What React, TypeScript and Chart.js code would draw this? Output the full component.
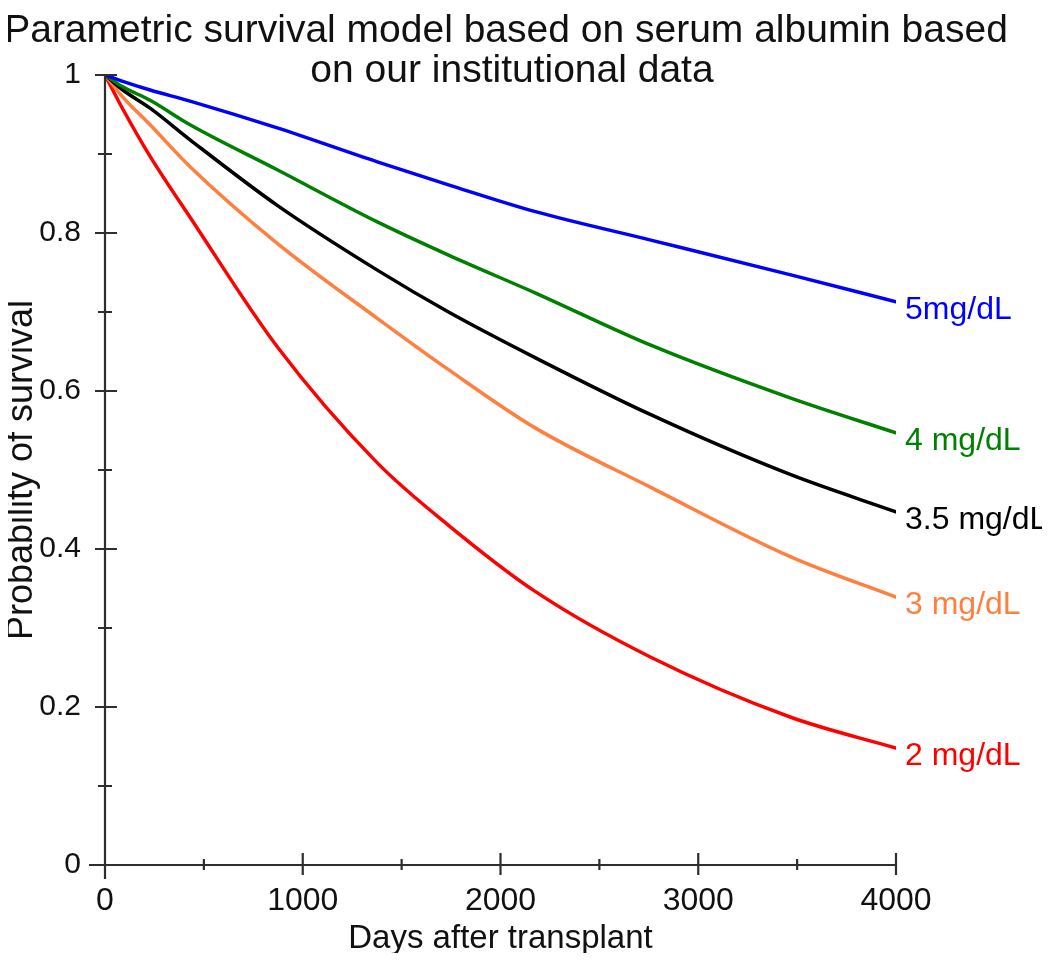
import React, { useEffect, useRef } from 'react';
import { Chart, registerables } from 'chart.js';

Chart.register(...registerables);

// ---- data ----
const days = [0, 90, 228, 430, 871, 1377, 1737, 2177, 2760, 3468, 4000];
const surv5 = [1, 0.992, 0.981, 0.967, 0.933, 0.89, 0.861, 0.827, 0.791, 0.747, 0.713];
const surv4 = [1, 0.985, 0.968, 0.937, 0.88, 0.814, 0.772, 0.724, 0.658, 0.591, 0.547];
const surv35 = [1, 0.981, 0.958, 0.918, 0.835, 0.753, 0.7, 0.642, 0.57, 0.494, 0.447];
const surv3 = [1, 0.972, 0.937, 0.884, 0.787, 0.692, 0.627, 0.553, 0.478, 0.39, 0.339];
const surv2 = [1, 0.957, 0.897, 0.82, 0.656, 0.509, 0.43, 0.346, 0.263, 0.187, 0.148];

const seriesNames = ['5mg/dL', '4 mg/dL', '3.5 mg/dL', '3 mg/dL', '2 mg/dL'];
const seriesValues = [surv5, surv4, surv35, surv3, surv2];
const seriesColors = ['#0000ff', '#008000', '#000000', '#ff7f3f', '#ff0000'];

const titleLines = ['Parametric survival model based on serum albumin based', 'on our institutional data'];
const xTitle = 'Days after transplant';
const yTitle = 'Probability of survival';

const xMajorTicks = [0, 1000, 2000, 3000, 4000];
const xTickLabels = ['0', '1000', '2000', '3000', '4000'];
const xMinorTicks = [500, 1500, 2500, 3500];
const yMajorTicks = [0, 0.2, 0.4, 0.6, 0.8, 1];
const yTickLabels = ['0', '0.2', '0.4', '0.6', '0.8', '1'];
const yMinorTicks = [0.1, 0.3, 0.5, 0.7, 0.9];

const FONT = '"Liberation Sans", Arial, Helvetica, sans-serif';

const labelFor = (ticks: number[], labels: string[], v: any) => {
  const idx = ticks.findIndex((t) => Math.abs(t - Number(v)) < 1e-9);
  return idx >= 0 ? labels[idx] : '';
};

const decorPlugin = {
  id: 'decor',
  afterDatasetsDraw(chart: any) {
    const { ctx, scales } = chart;
    const x = scales.x;
    const y = scales.y;
    const x0 = x.getPixelForValue(0);
    const xEnd = x.getPixelForValue(xMajorTicks[xMajorTicks.length - 1]);
    const y0 = y.getPixelForValue(0);
    const yTop = y.getPixelForValue(yMajorTicks[yMajorTicks.length - 1]);
    ctx.save();
    ctx.strokeStyle = '#2e2e2e';
    ctx.lineWidth = 2.2;
    ctx.lineCap = 'butt';
    ctx.beginPath();
    ctx.moveTo(x0, yTop);
    ctx.lineTo(x0, y0 + 14);
    ctx.moveTo(x0 - 16, y0);
    ctx.lineTo(xEnd, y0);
    yMajorTicks.forEach((v) => {
      const py = y.getPixelForValue(v);
      ctx.moveTo(x0 - 10, py);
      ctx.lineTo(x0 + 12, py);
    });
    yMinorTicks.forEach((v) => {
      const py = y.getPixelForValue(v);
      ctx.moveTo(x0 - 7, py);
      ctx.lineTo(x0 + 7, py);
    });
    xMajorTicks.forEach((v) => {
      const px = x.getPixelForValue(v);
      ctx.moveTo(px, y0 - 12);
      ctx.lineTo(px, y0 + 10);
    });
    xMinorTicks.forEach((v) => {
      const px = x.getPixelForValue(v);
      ctx.moveTo(px, y0 - 6);
      ctx.lineTo(px, y0 + 5);
    });
    ctx.stroke();

    // title
    ctx.fillStyle = '#111111';
    ctx.font = `39px ${FONT}`;
    ctx.textAlign = 'center';
    ctx.textBaseline = 'alphabetic';
    ctx.fillText(titleLines[0], 498, 34);
    ctx.fillText(titleLines[1], 504, 74);

    // curve end labels
    ctx.font = `32px ${FONT}`;
    ctx.textAlign = 'left';
    chart.data.datasets.forEach((ds: any, i: number) => {
      const meta = chart.getDatasetMeta(i);
      const pt = meta.data[meta.data.length - 1];
      ctx.fillStyle = ds.borderColor;
      ctx.fillText(ds.label, pt.x + 9, pt.y + 17);
    });
    ctx.restore();
  },
};

export default function App() {
  const ref = useRef<HTMLCanvasElement | null>(null);
  useEffect(() => {
    if (!ref.current) return;
    const chart = new Chart(ref.current, {
      type: 'line',
      data: {
        datasets: seriesNames.map((name, i) => ({
          label: name,
          data: days.map((d, j) => ({ x: d, y: seriesValues[i][j] })),
          borderColor: seriesColors[i],
          backgroundColor: seriesColors[i],
          borderWidth: 3.5,
          pointRadius: 0,
          cubicInterpolationMode: 'monotone',
          fill: false,
          borderJoinStyle: 'round',
          borderCapStyle: 'round',
        })),
      },
      options: {
        animation: false,
        responsive: false,
        devicePixelRatio: 1,
        layout: { padding: { top: 67, right: 146, left: 0, bottom: 0 } },
        plugins: {
          legend: { display: false },
          title: { display: false },
          tooltip: { enabled: false },
        },
        scales: {
          x: {
            type: 'linear',
            min: 0,
            max: 4000,
            grid: { display: false },
            border: { display: false },
            afterBuildTicks: (scale: any) => {
              scale.ticks = xMajorTicks.map((v) => ({ value: v }));
            },
            afterFit: (scale: any) => {
              scale.height = 88;
            },
            ticks: {
              color: '#111111',
              font: { family: FONT, size: 32 },
              padding: 9,
              maxRotation: 0,
              autoSkip: false,
              callback: (v: any) => labelFor(xMajorTicks, xTickLabels, v),
            },
            title: {
              display: true,
              text: xTitle,
              color: '#111111',
              font: { family: FONT, size: 33, lineHeight: 1 },
              padding: { top: 0, bottom: -2 },
            },
          },
          y: {
            type: 'linear',
            min: 0,
            max: 1,
            grid: { display: false },
            border: { display: false },
            afterBuildTicks: (scale: any) => {
              scale.ticks = yMajorTicks.map((v) => ({ value: v }));
            },
            afterFit: (scale: any) => {
              scale.width = 97;
            },
            ticks: {
              color: '#111111',
              font: { family: FONT, size: 30 },
              padding: 16,
              autoSkip: false,
              callback: (v: any) => labelFor(yMajorTicks, yTickLabels, v),
            },
            title: {
              display: true,
              text: yTitle,
              color: '#111111',
              font: { family: FONT, size: 36, lineHeight: 1 },
              padding: { top: -4, bottom: 0 },
            },
          },
        },
      },
      plugins: [decorPlugin],
    } as any);
    return () => chart.destroy();
  }, []);
  return (
    <div style={{ width: 1034, height: 945 }}>
      <canvas ref={ref} width={1034} height={945} style={{ display: 'block' }} />
    </div>
  );
}
